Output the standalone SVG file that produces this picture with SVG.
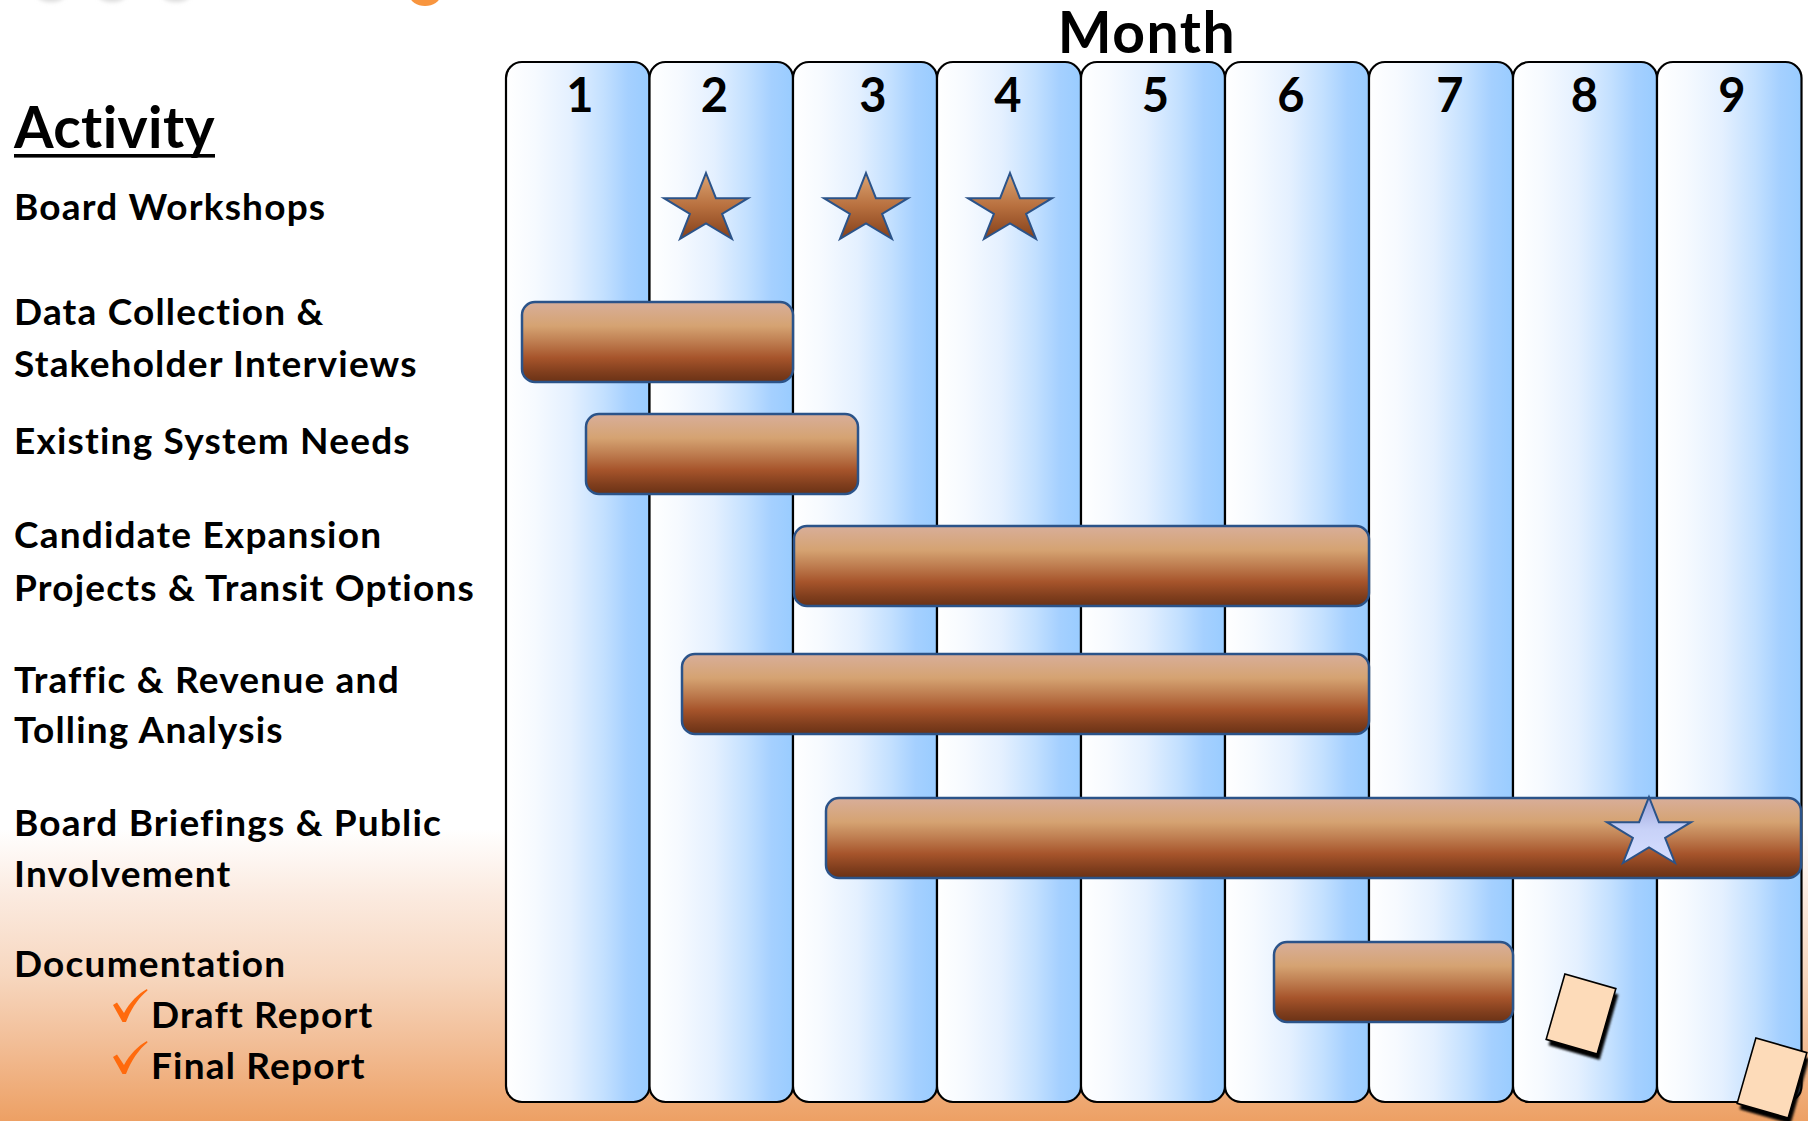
<svg xmlns="http://www.w3.org/2000/svg" width="1808" height="1121" viewBox="0 0 1808 1121">
<style>
.lbl{font-family:Lato,"Open Sans","Liberation Sans",sans-serif;font-weight:700;font-size:37px;fill:#000;letter-spacing:1.2px}
.num{font-family:Lato,"Open Sans","Liberation Sans",sans-serif;font-weight:700;font-size:47px;fill:#000;text-anchor:middle}
.col{fill:url(#colGrad);stroke:#000;stroke-width:2.2}
.bar{fill:url(#barGrad);stroke:#2B5389;stroke-width:2.5}
.star{fill:url(#starGrad);stroke:#2B5389;stroke-width:2}
.check{fill:#FF6A0D}
.paper{fill:#FDDBB9;stroke:#000;stroke-width:1.6}
</style>
<defs>
<linearGradient id="bgGrad" x1="0" y1="0" x2="0" y2="1">
<stop offset="0" stop-color="#FFFFFF"/>
<stop offset="0.74" stop-color="#FFFFFF"/>
<stop offset="0.80" stop-color="#FBEADF"/>
<stop offset="0.87" stop-color="#F7D7BF"/>
<stop offset="0.93" stop-color="#F2BE97"/>
<stop offset="1" stop-color="#EDA064"/>
</linearGradient>
<linearGradient id="colGrad" x1="0" y1="0" x2="1" y2="0">
<stop offset="0" stop-color="#FFFFFF"/>
<stop offset="0.2" stop-color="#F6FAFF"/>
<stop offset="0.45" stop-color="#E4F0FF"/>
<stop offset="0.68" stop-color="#C3E0FF"/>
<stop offset="0.85" stop-color="#A5D0FF"/>
<stop offset="1" stop-color="#99CCFF"/>
</linearGradient>
<linearGradient id="barGrad" x1="0" y1="0" x2="0" y2="1">
<stop offset="0" stop-color="#D8AE9A"/>
<stop offset="0.3" stop-color="#D5A372"/>
<stop offset="0.5" stop-color="#BE7D50"/>
<stop offset="0.7" stop-color="#A6542B"/>
<stop offset="0.88" stop-color="#803E1D"/>
<stop offset="1" stop-color="#6A3216"/>
</linearGradient>
<linearGradient id="starGrad" x1="0" y1="0" x2="0" y2="1">
<stop offset="0" stop-color="#DBA573"/>
<stop offset="0.5" stop-color="#B8703F"/>
<stop offset="1" stop-color="#84401A"/>
</linearGradient>
<linearGradient id="blueStarGrad" x1="0" y1="0" x2="0" y2="1">
<stop offset="0" stop-color="#9CA3DB"/>
<stop offset="0.5" stop-color="#C8D2F8"/>
<stop offset="1" stop-color="#D6DEFF"/>
</linearGradient>
<filter id="soft" x="-20%" y="-20%" width="140%" height="140%">
<feGaussianBlur stdDeviation="1"/>
</filter>
<filter id="blurTop" x="-50%" y="-50%" width="200%" height="200%">
<feGaussianBlur stdDeviation="2"/>
</filter>
<path id="starShape" d="M0,0 L9.9,25.2 L42,25.2 L16.1,40.8 L26,66 L0,50.4 L-26,66 L-16.1,40.8 L-42,25.2 L-9.9,25.2 Z"/>
<path id="checkShape" d="M0,16 L4,13.5 L11,24 C17,13 25,5 34,0 L34.5,1.5 C26,8 18,20 13,33 L9.5,33 Z"/>
<g id="paperShape">
<rect x="-22.5" y="-29" width="53" height="68" fill="#000" filter="url(#soft)"/>
<rect class="paper" x="-26.5" y="-34" width="53" height="68"/>
</g>
</defs>

<rect id="background" x="0" y="0" width="1808" height="1121" fill="url(#bgGrad)"/>

<g id="top-remnants" filter="url(#blurTop)">
<ellipse cx="51" cy="-4" rx="13" ry="6" fill="#DADADA"/>
<ellipse cx="112" cy="-4" rx="13" ry="6" fill="#DADADA"/>
<ellipse cx="176" cy="-4" rx="13" ry="6" fill="#DADADA"/>
</g>
<ellipse id="orange-remnant" cx="425" cy="-4" rx="15" ry="10" fill="#F8953E"/>

<g id="columns">
<g id="col-1"><rect class="col" x="506" y="62" width="143.5" height="1040" rx="16"/><text class="num" x="580" y="112">1</text></g>
<g id="col-2"><rect class="col" x="649.5" y="62" width="143.5" height="1040" rx="16"/><text class="num" x="714.5" y="112">2</text></g>
<g id="col-3"><rect class="col" x="793" y="62" width="144" height="1040" rx="16"/><text class="num" x="873" y="112">3</text></g>
<g id="col-4"><rect class="col" x="937" y="62" width="144" height="1040" rx="16"/><text class="num" x="1008" y="112">4</text></g>
<g id="col-5"><rect class="col" x="1081" y="62" width="144" height="1040" rx="16"/><text class="num" x="1155.5" y="112">5</text></g>
<g id="col-6"><rect class="col" x="1225" y="62" width="144" height="1040" rx="16"/><text class="num" x="1291" y="112">6</text></g>
<g id="col-7"><rect class="col" x="1369" y="62" width="144" height="1040" rx="16"/><text class="num" x="1450" y="112">7</text></g>
<g id="col-8"><rect class="col" x="1513" y="62" width="144" height="1040" rx="16"/><text class="num" x="1584.5" y="112">8</text></g>
<g id="col-9"><rect class="col" x="1657" y="62" width="144.5" height="1040" rx="16"/><text class="num" x="1732" y="112">9</text></g>
</g>

<text id="month-title" x="1147" y="53" text-anchor="middle" style="font-family:Lato,'Open Sans','Liberation Sans',sans-serif;font-weight:700;font-size:57px;letter-spacing:1.5px">Month</text>

<g id="activity-header">
<text x="14" y="148" style="font-family:Lato,'Open Sans','Liberation Sans',sans-serif;font-weight:700;font-size:57px;letter-spacing:0.4px">Activity</text>
<rect x="14" y="154" width="201" height="3.6" fill="#000"/>
</g>

<g id="labels">
<g id="lbl-board-workshops"><text class="lbl" x="14" y="220">Board Workshops</text></g>
<g id="lbl-data-collection"><text class="lbl" x="14" y="325">Data Collection &amp;</text><text class="lbl" x="14" y="376.5">Stakeholder Interviews</text></g>
<g id="lbl-existing"><text class="lbl" x="14" y="454">Existing System Needs</text></g>
<g id="lbl-candidate"><text class="lbl" x="14" y="548">Candidate Expansion</text><text class="lbl" x="14" y="600.5">Projects &amp; Transit Options</text></g>
<g id="lbl-traffic"><text class="lbl" x="14" y="693">Traffic &amp; Revenue and</text><text class="lbl" x="14" y="743">Tolling Analysis</text></g>
<g id="lbl-briefings"><text class="lbl" x="14" y="836">Board Briefings &amp; Public</text><text class="lbl" x="14" y="887">Involvement</text></g>
<g id="lbl-documentation"><text class="lbl" x="14" y="977">Documentation</text></g>
<g id="lbl-draft"><use href="#checkShape" class="check" x="113" y="989"/><text class="lbl" x="151" y="1028">Draft Report</text></g>
<g id="lbl-final"><use href="#checkShape" class="check" x="113" y="1041"/><text class="lbl" x="151" y="1079">Final Report</text></g>
</g>

<g id="bars">
<rect id="bar-data-collection" class="bar" x="522" y="302" width="271" height="80" rx="13"/>
<rect id="bar-existing" class="bar" x="586" y="414" width="272" height="80" rx="13"/>
<rect id="bar-candidate" class="bar" x="794" y="526" width="575" height="80" rx="13"/>
<rect id="bar-traffic" class="bar" x="682" y="654" width="687" height="80" rx="13"/>
<rect id="bar-briefings" class="bar" x="826" y="798" width="975" height="80" rx="13"/>
<rect id="bar-documentation" class="bar" x="1274" y="942" width="239" height="80" rx="13"/>
</g>

<g id="milestones">
<use id="star-m2" href="#starShape" class="star" x="706" y="173"/>
<use id="star-m3" href="#starShape" class="star" x="866" y="173"/>
<use id="star-m4" href="#starShape" class="star" x="1010" y="173"/>
<use id="star-briefing" href="#starShape" x="1649" y="797" fill="url(#blueStarGrad)" stroke="#2B5389" stroke-width="2"/>
</g>

<g id="reports">
<use id="paper-draft" href="#paperShape" transform="translate(1581,1014) rotate(16)"/>
<use id="paper-final" href="#paperShape" transform="translate(1772,1078) rotate(16)"/>
</g>
</svg>
